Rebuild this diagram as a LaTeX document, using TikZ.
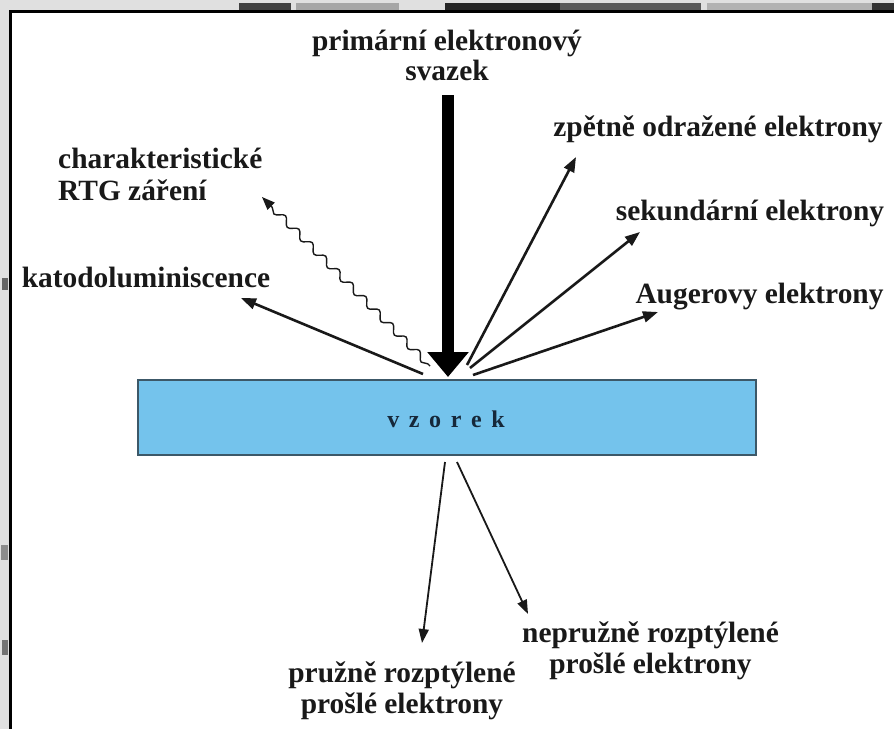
\documentclass[tikz,border=0pt]{standalone}
\usepackage{fontspec}
\setmainfont{Liberation Serif}
\usetikzlibrary{arrows.meta,decorations.pathmorphing}
\definecolor{sampleblue}{RGB}{116,195,236}
\definecolor{sampleedge}{RGB}{60,88,104}
\definecolor{sampletext}{RGB}{22,40,58}
\definecolor{inkblack}{RGB}{25,25,25}
\tikzset{
  lbl/.style={font=\fontsize{29.4}{32}\selectfont\bfseries, inner sep=0pt, text=inkblack, anchor=base},
  ray/.style={draw=inkblack, line width=2.6pt, -{Triangle[length=15pt,width=11pt]}},
  thinray/.style={draw=inkblack, line width=1.8pt, -{Triangle[length=14pt,width=10pt]}},
  beam/.style={draw=black, line width=12pt, -{Triangle[length=25pt,width=40pt]}},
  wave/.style={draw=inkblack, line width=1.4pt, -{Triangle[length=13pt,width=10pt]},
    decorate, decoration={snake, segment length=19pt, amplitude=3.5pt, pre length=3pt, post length=10pt}},
  sample/.style={draw=sampleedge, fill=sampleblue, line width=2pt, minimum width=618pt, minimum height=75pt, inner sep=0pt},
}
\begin{document}
\begin{tikzpicture}[x=1pt,y=-1pt]
\useasboundingbox (0,0) rectangle (894,729);
% scan margins
\fill[white] (0,0) rectangle (894,729);
\fill[black!12] (0,0) rectangle (894,10);
\fill[black!12] (0,0) rectangle (9,729);
\fill[black!75] (239,3) rectangle (291,10);
\fill[black!35] (296,3) rectangle (399,10);
\fill[black!85] (445,3) rectangle (560,10);
\fill[black!65] (560,3) rectangle (701,10);
\fill[black!30] (707,3) rectangle (872,10);
\fill[black!80] (872,3) rectangle (894,10);
\fill[black!60] (2,278) rectangle (8,290);
\fill[black!45] (1,545) rectangle (8,560);
\fill[black!55] (2,640) rectangle (8,655);
\fill[black] (9,10) rectangle (894,13);
\fill[black] (9,10) rectangle (12,729);

% sample
\node[sample] (vz) at (447,417.5) {};
\node[font=\fontsize{24}{28}\selectfont\bfseries, text=sampletext, inner sep=0pt, anchor=base] (vzt) at (446,427)
  {v\hspace{0.4em}z\hspace{0.4em}o\hspace{0.4em}r\hspace{0.4em}e\hspace{0.4em}k};

% labels
\node[lbl] (primA) at (447,50) {primární elektronový};
\node[lbl] (primB) at (447,80) {svazek};
\node[lbl] (zpe) at (718,136) {zpětně odražené elektrony};
\node[lbl] (sek) at (750,220) {sekundární elektrony};
\node[lbl] (aug) at (759.5,303) {Augerovy elektrony};
\node[lbl, anchor=base west] (chrA) at (58,168) {charakteristické};
\node[lbl, anchor=base west] (chrB) at (58,200) {RTG záření};
\node[lbl] (kat) at (146,287) {katodoluminiscence};
\node[lbl] (nepA) at (650.5,642) {nepružně rozptýlené};
\node[lbl] (nepB) at (650.5,673) {prošlé elektrony};
\node[lbl] (pruA) at (402,682) {pružně rozptýlené};
\node[lbl] (pruB) at (402,713) {prošlé elektrony};

% arrow end points
\coordinate (beamtop) at (448,95);
\coordinate (beamtip) at (448,377);
\coordinate (zpeA) at (467,365);  \coordinate (zpeB) at (576,157);
\coordinate (sekA) at (470,368);  \coordinate (sekB) at (640,232);
\coordinate (augA) at (473,375);  \coordinate (augB) at (658,312);
\coordinate (katA) at (423,374);  \coordinate (katB) at (241,298);
\coordinate (chrP) at (430,366);  \coordinate (chrQ) at (262,197);
\coordinate (pruP) at (445,462);  \coordinate (pruQ) at (422,643);
\coordinate (nepP) at (457,462);  \coordinate (nepQ) at (528,614);

% arrows
\draw[beam] (beamtop) -- (beamtip);
\draw[ray] (zpeA) -- (zpeB);
\draw[ray] (sekA) -- (sekB);
\draw[ray] (augA) -- (augB);
\draw[ray] (katA) -- (katB);
\draw[wave] (chrP) -- (chrQ);
\draw[thinray] (pruP) -- (pruQ);
\draw[thinray] (nepP) -- (nepQ);
\end{tikzpicture}
\end{document}
